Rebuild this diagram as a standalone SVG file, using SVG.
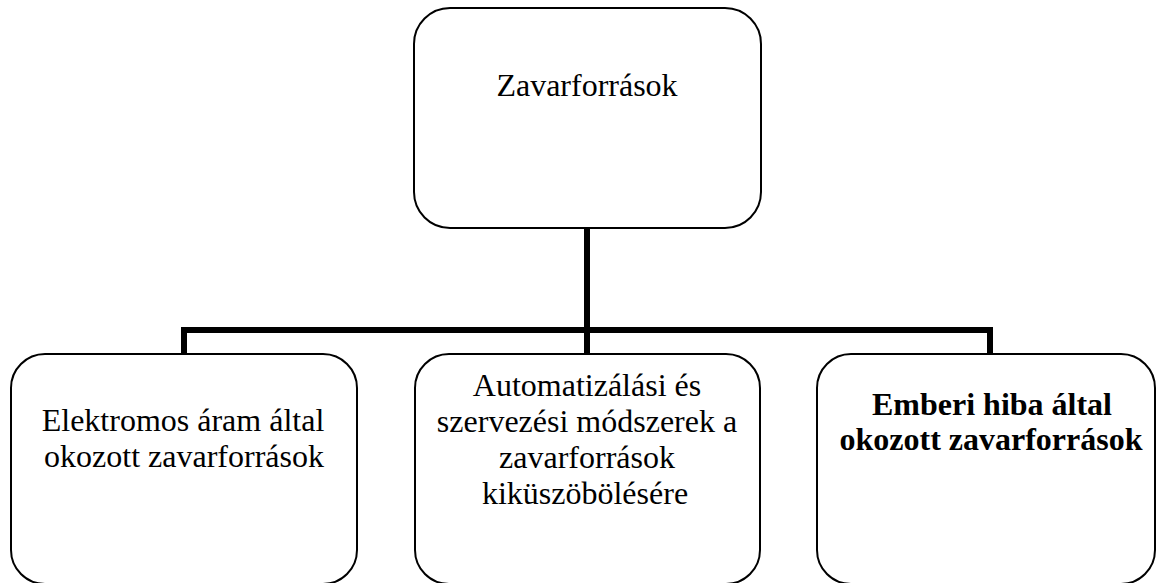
<svg xmlns="http://www.w3.org/2000/svg" width="1157" height="583" viewBox="0 0 1157 583">
  <style>
    .box { fill: #ffffff; stroke: #000000; stroke-width: 2; }
    .lbl { font-family: "Liberation Serif", serif; font-size: 32px; fill: #000000; text-anchor: middle; }
    .bold { font-weight: bold; }
    .link { fill: none; stroke: #000000; stroke-width: 6; stroke-linejoin: miter; stroke-linecap: butt; }
  </style>
  <rect width="1157" height="583" fill="#ffffff"/>

  <!-- tree connectors -->
  <g id="connectors">
    <path class="link" d="M587,226 V330"/>
    <path class="link" d="M184,355 V330 H990 V355"/>
    <path class="link" d="M587,330 V355"/>
  </g>

  <g id="root">
    <rect class="box" x="414" y="8" width="347" height="220" rx="36" ry="36"/>
    <text class="lbl" x="587" y="96">Zavarforrások</text>
  </g>

  <g id="electric">
    <rect class="box" x="11" y="354" width="346" height="230" rx="34" ry="34"/>
    <text class="lbl" x="183" y="431">Elektromos áram által</text>
    <text class="lbl" x="184" y="467">okozott zavarforrások</text>
  </g>

  <g id="automation">
    <rect class="box" x="415" y="354" width="345" height="230" rx="34" ry="34"/>
    <text class="lbl" x="587" y="396">Automatizálási és</text>
    <text class="lbl" x="587" y="432">szervezési módszerek a</text>
    <text class="lbl" x="587" y="468">zavarforrások</text>
    <text class="lbl" x="585" y="504">kiküszöbölésére</text>
  </g>

  <g id="human">
    <rect class="box" x="817" y="354" width="338" height="230" rx="34" ry="34"/>
    <text class="lbl bold" x="992" y="415">Emberi hiba által</text>
    <text class="lbl bold" x="991" y="450">okozott zavarforrások</text>
  </g>
</svg>
